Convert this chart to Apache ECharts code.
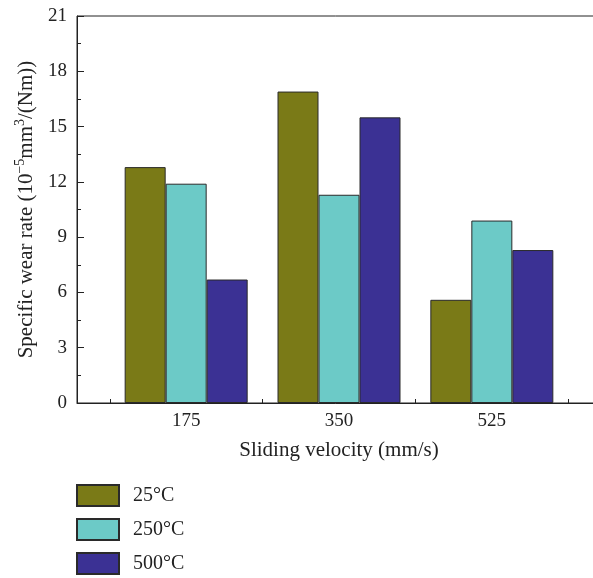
<!DOCTYPE html>
<html>
<head>
<meta charset="utf-8">
<script src="https://cdn.jsdelivr.net/npm/echarts@6/dist/echarts.min.js"></script>
<style>
  html, body { margin: 0; padding: 0; background: #fff; }
  #chart { width: 593px; height: 578px; }
</style>
</head>
<body>
<div id="chart"></div>
<script>
// Sliding velocities (mm/s) at which the wear tests were run
const velocities = [175, 350, 525];
// Minor tick positions between the velocity groups
const minorTicks = [87.5, 262.5, 437.5, 612.5];
// Specific wear rate (10^-5 mm^3/(Nm)) per test temperature
const seriesNames = ['25°C', '250°C', '500°C'];
const wear25 = [12.8, 16.9, 5.6];
const wear250 = [11.9, 11.3, 9.9];
const wear500 = [6.7, 15.5, 8.3];
const seriesColors = ['#7a7a17', '#6ccac7', '#3b3194'];

const FONT = '"Liberation Serif", "DejaVu Serif", serif';
const INK = '#222';

function barSeries(name, values, color) {
  return {
    name: name,
    type: 'bar',
    xAxisIndex: 0,
    yAxisIndex: 0,
    barWidth: 41,
    barGap: '0%',
    data: velocities.map((v, i) => [v, values[i]]),
    itemStyle: { color: color, borderColor: '#2a2a2a', borderWidth: 1 }
  };
}

// One legend block per temperature, stacked down the left side
function legendEntry(name, index) {
  return {
    orient: 'vertical',
    left: 76,
    top: 484 + index * 34,
    padding: 0,
    itemWidth: 42,
    itemHeight: 21,
    icon: 'rect',
    data: [name],
    textStyle: { fontFamily: FONT, fontSize: 20, color: INK, padding: [0, 0, 0, 9] }
  };
}

const chart = echarts.init(document.getElementById('chart'), null, { renderer: 'canvas' });

chart.setOption({
  animation: false,
  backgroundColor: '#fff',
  textStyle: { fontFamily: FONT, color: INK },
  grid: {
    left: 77, top: 16, width: 524, bottom: 175,
    outerBoundsMode: 'none',
    show: true, borderColor: INK, borderWidth: 1, backgroundColor: 'transparent'
  },
  legend: seriesNames.map(legendEntry),
  xAxis: [
    {
      type: 'value',
      min: 50,
      max: 650,
      position: 'bottom',
      name: 'Sliding velocity (mm/s)',
      nameLocation: 'middle',
      nameGap: 37,
      nameTextStyle: { fontFamily: FONT, fontSize: 21, color: INK },
      axisLine: { show: true, onZero: false, lineStyle: { color: INK, width: 1 } },
      axisTick: { show: true, inside: true, length: 7, customValues: velocities, lineStyle: { color: INK } },
      axisLabel: { show: true, customValues: velocities, margin: 9, fontFamily: FONT, fontSize: 19, color: INK },
      splitLine: { show: false }
    },
    {
      type: 'value',
      min: 50,
      max: 650,
      position: 'bottom',
      axisLine: { show: false },
      axisTick: { show: true, inside: true, length: 4, customValues: minorTicks, lineStyle: { color: INK } },
      axisLabel: { show: false },
      splitLine: { show: false }
    }
  ],
  yAxis: {
    type: 'value',
    min: 0,
    max: 21,
    interval: 3,
    name: '{t|Specific wear rate (10}{sup|−5}{t|mm}{sup|3}{t|/(Nm))}',
    nameLocation: 'middle',
    nameGap: 38,
    nameRotate: 90,
    nameTextStyle: {
      fontFamily: FONT, fontSize: 21, color: INK,
      rich: {
        t: { fontFamily: FONT, fontSize: 21, color: INK, lineHeight: 24, verticalAlign: 'bottom' },
        sup: { fontFamily: FONT, fontSize: 14, color: INK, lineHeight: 24, verticalAlign: 'top' }
      }
    },
    axisLine: { show: true, lineStyle: { color: INK, width: 1 } },
    axisTick: { show: true, inside: true, length: 7, lineStyle: { color: INK } },
    minorTick: { show: true, splitNumber: 2, length: 4, lineStyle: { color: INK } },
    axisLabel: { margin: 10, fontFamily: FONT, fontSize: 19, color: INK },
    splitLine: { show: false }
  },
  series: [
    barSeries(seriesNames[0], wear25, seriesColors[0]),
    barSeries(seriesNames[1], wear250, seriesColors[1]),
    barSeries(seriesNames[2], wear500, seriesColors[2])
  ]
});
</script>
</body>
</html>
